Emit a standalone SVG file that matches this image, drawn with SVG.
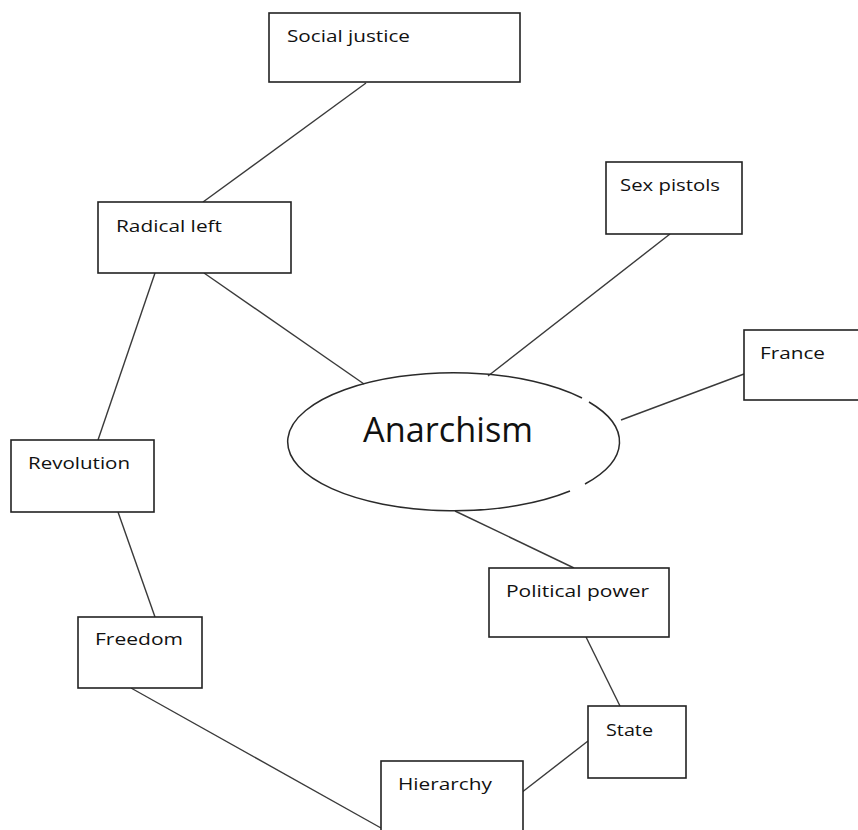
<svg xmlns="http://www.w3.org/2000/svg" width="858" height="830" viewBox="0 0 858 830">
  <style>
    .box { fill: #ffffff; stroke: #222222; stroke-width: 1.6; }
    .hub { fill: none; stroke: #2a2a2a; stroke-width: 1.5; }
    .link { stroke: #3a3a3a; stroke-width: 1.4; fill: none; }
    .label { font-family: "Open Sans", "Noto Sans", "Liberation Sans", sans-serif; font-size: 17px; fill: #111111; }
    .title { font-family: "Open Sans", "Noto Sans", "Liberation Sans", sans-serif; font-size: 35px; fill: #111111; }
  </style>
  <rect width="858" height="830" fill="#ffffff"/>

  <g id="connectors">
    <line class="link" x1="366" y1="83" x2="203" y2="202"/>
    <line class="link" x1="204" y1="273" x2="364" y2="384"/>
    <line class="link" x1="155" y1="273" x2="98" y2="440"/>
    <line class="link" x1="118" y1="512" x2="155" y2="617"/>
    <line class="link" x1="131" y1="688" x2="381" y2="828"/>
    <line class="link" x1="670" y1="234" x2="488" y2="376"/>
    <line class="link" x1="744" y1="374" x2="621" y2="420"/>
    <line class="link" x1="455" y1="511" x2="574" y2="568"/>
    <line class="link" x1="586" y1="637" x2="620" y2="706"/>
    <line class="link" x1="588" y1="741" x2="521" y2="793"/>
  </g>

  <g id="anarchism">
    <path class="hub" d="M 582 398 A 166 69 0 1 0 570 491"/>
    <path class="hub" d="M 585 484 A 166 69 0 0 0 589 402"/>
    <text class="title" x="363" y="442" textLength="170" lengthAdjust="spacingAndGlyphs">Anarchism</text>
  </g>

  <g id="social-justice">
    <rect class="box" x="269" y="13" width="251" height="69"/>
    <text class="label" x="287" y="42" textLength="123" lengthAdjust="spacingAndGlyphs">Social justice</text>
  </g>

  <g id="radical-left">
    <rect class="box" x="98" y="202" width="193" height="71"/>
    <text class="label" x="116" y="232" textLength="106" lengthAdjust="spacingAndGlyphs">Radical left</text>
  </g>

  <g id="sex-pistols">
    <rect class="box" x="606" y="162" width="136" height="72"/>
    <text class="label" x="620" y="191" textLength="100" lengthAdjust="spacingAndGlyphs">Sex pistols</text>
  </g>

  <g id="france">
    <rect class="box" x="744" y="330" width="120" height="70"/>
    <text class="label" x="760" y="359" textLength="65" lengthAdjust="spacingAndGlyphs">France</text>
  </g>

  <g id="revolution">
    <rect class="box" x="11" y="440" width="143" height="72"/>
    <text class="label" x="28" y="469" textLength="102" lengthAdjust="spacingAndGlyphs">Revolution</text>
  </g>

  <g id="freedom">
    <rect class="box" x="78" y="617" width="124" height="71"/>
    <text class="label" x="95" y="645" textLength="88" lengthAdjust="spacingAndGlyphs">Freedom</text>
  </g>

  <g id="political-power">
    <rect class="box" x="489" y="568" width="180" height="69"/>
    <text class="label" x="506" y="597" textLength="143" lengthAdjust="spacingAndGlyphs">Political power</text>
  </g>

  <g id="state">
    <rect class="box" x="588" y="706" width="98" height="72"/>
    <text class="label" x="606" y="736" textLength="47" lengthAdjust="spacingAndGlyphs">State</text>
  </g>

  <g id="hierarchy">
    <rect class="box" x="381" y="761" width="142" height="80"/>
    <text class="label" x="398" y="790" textLength="94" lengthAdjust="spacingAndGlyphs">Hierarchy</text>
  </g>
</svg>
